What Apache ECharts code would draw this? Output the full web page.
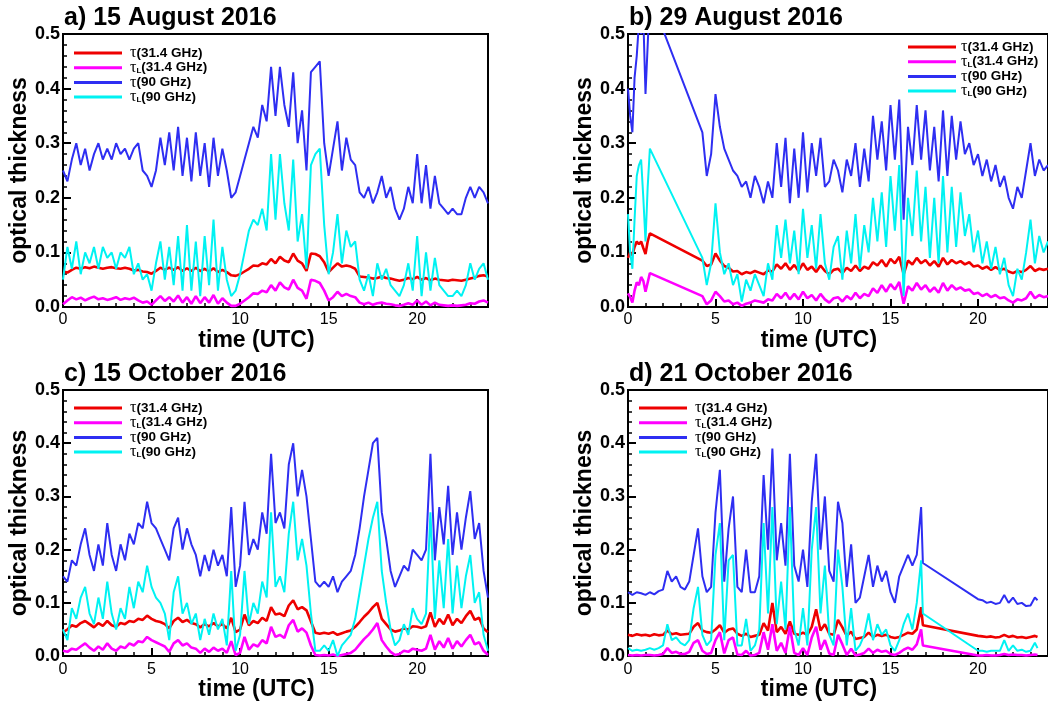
<!DOCTYPE html>
<html>
<head>
<meta charset="utf-8">
<script src="https://cdn.jsdelivr.net/npm/echarts@6/dist/echarts.min.js"></script>
<style>
  html, body { margin: 0; padding: 0; background: #fff; }
  #chart { width: 1048px; height: 702px; }
</style>
</head>
<body>
<div id="chart"></div>
<script>
// Uniformly spaced time stamps (hours UTC) for one contiguous stretch of measurements.
function steps(from, to, step) {
  const out = [];
  for (let t = from; t <= to + 1e-9; t += step) out.push(+t.toFixed(3));
  return out;
}

// ---------- time bases (UTC hours); gaps in the records are simply skipped ----------
const timeAug15 = steps(0, 24, 0.25);
const timeAug29 = steps(0, 1.25, 0.125).concat(steps(4.25, 24, 0.25));
const timeOct15 = steps(0, 24, 0.25);
const timeOct21 = steps(0, 16.75, 0.25).concat([16.85], steps(20, 23.25, 0.25), [23.4]);

// ---------- a) 15 August 2016 ----------
const aug15Tau31 = [
  0.065,0.063,0.068,0.072,0.070,0.073,0.071,0.074,
  0.072,0.070,0.072,0.073,0.071,0.070,0.072,0.070,
  0.067,0.068,0.065,0.064,0.061,0.066,0.072,0.068,
  0.072,0.068,0.073,0.066,0.071,0.066,0.072,0.066,
  0.070,0.065,0.071,0.064,0.068,0.064,0.058,0.057,
  0.060,0.065,0.070,0.076,0.075,0.080,0.078,0.088,
  0.080,0.092,0.085,0.082,0.098,0.085,0.080,0.066,
  0.098,0.097,0.093,0.082,0.064,0.072,0.080,0.074,
  0.076,0.074,0.070,0.056,0.055,0.054,0.052,0.053,
  0.056,0.053,0.052,0.050,0.048,0.050,0.053,0.051,
  0.055,0.050,0.053,0.049,0.052,0.050,0.049,0.048,
  0.050,0.049,0.048,0.050,0.052,0.054,0.057,0.058,
  0.056
];
const aug15TauL31 = [
  0.005,0.012,0.018,0.014,0.017,0.012,0.016,0.019,
  0.014,0.016,0.013,0.015,0.018,0.013,0.016,0.014,
  0.017,0.012,0.008,0.010,0.004,0.012,0.020,0.011,
  0.018,0.010,0.021,0.008,0.018,0.006,0.020,0.007,
  0.018,0.008,0.022,0.006,0.016,0.008,0.002,0.002,
  0.006,0.012,0.018,0.025,0.024,0.030,0.027,0.040,
  0.030,0.045,0.036,0.032,0.050,0.035,0.030,0.015,
  0.050,0.048,0.044,0.030,0.012,0.018,0.028,0.020,
  0.024,0.020,0.018,0.008,0.005,0.008,0.004,0.007,
  0.008,0.006,0.005,0.003,0.002,0.004,0.007,0.004,
  0.012,0.004,0.010,0.003,0.008,0.004,0.003,0.002,
  0.003,0.002,0.003,0.004,0.007,0.006,0.010,0.012,
  0.008
];
const aug15Tau90 = [
  0.25,0.23,0.27,0.30,0.26,0.29,0.25,0.28,
  0.30,0.27,0.29,0.27,0.30,0.28,0.29,0.27,
  0.29,0.30,0.25,0.24,0.22,0.25,0.31,0.26,
  0.32,0.25,0.33,0.24,0.31,0.23,0.32,0.24,
  0.30,0.22,0.31,0.24,0.29,0.25,0.20,0.21,
  0.24,0.27,0.30,0.33,0.31,0.37,0.34,0.44,
  0.35,0.44,0.37,0.33,0.43,0.30,0.36,0.25,
  0.43,0.44,0.45,0.30,0.24,0.29,0.34,0.25,
  0.31,0.27,0.26,0.21,0.20,0.22,0.19,0.21,
  0.24,0.20,0.22,0.18,0.16,0.18,0.22,0.19,
  0.28,0.19,0.26,0.18,0.24,0.19,0.18,0.17,
  0.18,0.17,0.17,0.20,0.22,0.20,0.22,0.21,
  0.19
];
const aug15TauL90 = [
  0.05,0.11,0.07,0.12,0.06,0.10,0.08,0.11,
  0.07,0.11,0.09,0.10,0.07,0.10,0.09,0.11,
  0.06,0.08,0.05,0.06,0.03,0.08,0.12,0.05,
  0.11,0.04,0.13,0.03,0.15,0.03,0.12,0.02,
  0.13,0.04,0.16,0.03,0.11,0.05,0.02,0.03,
  0.06,0.10,0.14,0.16,0.15,0.18,0.14,0.28,
  0.16,0.28,0.19,0.14,0.27,0.12,0.17,0.07,
  0.26,0.28,0.29,0.15,0.06,0.10,0.17,0.08,
  0.14,0.11,0.12,0.05,0.03,0.06,0.02,0.08,
  0.05,0.07,0.04,0.03,0.02,0.04,0.08,0.03,
  0.13,0.02,0.10,0.03,0.09,0.04,0.03,0.02,
  0.02,0.03,0.02,0.04,0.08,0.05,0.07,0.08,
  0.05
];

// ---------- b) 29 August 2016 ----------
const aug29Tau31 = [
  0.090,0.100,0.095,0.110,0.120,0.115,0.120,0.108,0.097,0.120,0.135,
  0.085,0.075,0.078,0.098,0.085,0.075,0.072,
  0.065,0.066,0.060,0.064,0.062,0.066,0.063,0.060,
  0.067,0.065,0.078,0.070,0.080,0.068,0.077,0.066,
  0.080,0.068,0.074,0.064,0.076,0.066,0.060,0.068,
  0.070,0.062,0.072,0.066,0.076,0.066,0.074,0.070,
  0.082,0.076,0.086,0.074,0.088,0.080,0.092,0.060,
  0.085,0.078,0.090,0.080,0.086,0.076,0.084,0.074,
  0.090,0.078,0.086,0.080,0.084,0.078,0.082,0.074,
  0.076,0.070,0.074,0.068,0.073,0.068,0.070,0.065,
  0.062,0.066,0.064,0.068,0.075,0.066,0.070,0.068,
  0.070
];
const aug29TauL31 = [
  0.025,0.018,0.008,0.030,0.045,0.040,0.055,0.048,0.028,0.045,0.062,
  0.020,0.005,0.012,0.028,0.020,0.010,0.012,
  0.005,0.008,0.002,0.006,0.008,0.012,0.010,0.008,
  0.014,0.012,0.024,0.016,0.026,0.014,0.024,0.014,
  0.028,0.016,0.022,0.012,0.024,0.014,0.008,0.016,
  0.018,0.010,0.020,0.014,0.026,0.016,0.024,0.020,
  0.034,0.026,0.040,0.028,0.042,0.032,0.046,0.006,
  0.038,0.030,0.044,0.032,0.040,0.028,0.036,0.026,
  0.044,0.030,0.040,0.032,0.036,0.030,0.032,0.024,
  0.026,0.020,0.024,0.018,0.022,0.016,0.018,0.012,
  0.008,0.014,0.012,0.016,0.028,0.016,0.022,0.018,
  0.020
];
const aug29Tau90 = [
  0.40,0.35,0.32,0.42,0.46,0.52,0.50,0.53,0.39,0.48,0.57,
  0.32,0.24,0.28,0.39,0.33,0.29,0.27,
  0.25,0.24,0.22,0.23,0.20,0.24,0.22,0.19,
  0.23,0.20,0.30,0.22,0.31,0.19,0.29,0.20,
  0.32,0.21,0.30,0.24,0.31,0.22,0.23,0.27,
  0.25,0.21,0.27,0.24,0.30,0.22,0.29,0.23,
  0.35,0.27,0.34,0.25,0.37,0.27,0.38,0.16,
  0.33,0.26,0.37,0.27,0.36,0.25,0.33,0.23,
  0.36,0.24,0.35,0.27,0.34,0.28,0.30,0.26,
  0.28,0.24,0.27,0.23,0.26,0.22,0.24,0.20,
  0.18,0.22,0.20,0.25,0.30,0.24,0.27,0.25,
  0.26
];
const aug29TauL90 = [
  0.17,0.10,0.07,0.16,0.24,0.26,0.27,0.20,0.12,0.22,0.29,
  0.09,0.04,0.08,0.19,0.10,0.06,0.08,
  0.04,0.06,0.01,0.05,0.03,0.06,0.04,0.02,
  0.08,0.05,0.15,0.09,0.16,0.08,0.14,0.06,
  0.18,0.09,0.15,0.07,0.17,0.08,0.05,0.11,
  0.13,0.05,0.14,0.08,0.17,0.07,0.15,0.10,
  0.20,0.12,0.21,0.11,0.24,0.14,0.26,0.02,
  0.20,0.13,0.25,0.12,0.22,0.09,0.20,0.08,
  0.24,0.10,0.22,0.11,0.21,0.13,0.17,0.10,
  0.14,0.08,0.12,0.07,0.11,0.06,0.09,0.04,
  0.02,0.07,0.05,0.10,0.16,0.08,0.13,0.10,
  0.12
];

// ---------- c) 15 October 2016 ----------
const oct15Tau31 = [
  0.045,0.050,0.058,0.055,0.062,0.066,0.060,0.054,
  0.062,0.057,0.066,0.058,0.055,0.062,0.060,0.066,
  0.064,0.070,0.068,0.076,0.070,0.066,0.064,0.060,
  0.052,0.066,0.072,0.064,0.068,0.062,0.060,0.054,
  0.060,0.056,0.062,0.056,0.060,0.052,0.072,0.045,
  0.050,0.078,0.058,0.066,0.062,0.072,0.066,0.092,
  0.078,0.080,0.075,0.095,0.105,0.088,0.092,0.086,
  0.065,0.044,0.042,0.044,0.042,0.045,0.040,0.043,
  0.046,0.048,0.055,0.064,0.074,0.082,0.092,0.100,
  0.070,0.060,0.050,0.046,0.048,0.052,0.050,0.056,
  0.055,0.053,0.056,0.082,0.055,0.070,0.060,0.078,
  0.058,0.070,0.062,0.075,0.085,0.068,0.072,0.052,
  0.045
];
const oct15TauL31 = [
  0.010,0.008,0.014,0.012,0.018,0.024,0.016,0.010,
  0.018,0.012,0.024,0.014,0.010,0.018,0.015,0.024,
  0.020,0.028,0.026,0.036,0.030,0.026,0.022,0.018,
  0.008,0.024,0.030,0.020,0.024,0.016,0.014,0.006,
  0.014,0.008,0.016,0.010,0.014,0.006,0.028,0.002,
  0.006,0.036,0.012,0.022,0.018,0.030,0.024,0.055,
  0.036,0.040,0.034,0.058,0.068,0.046,0.052,0.044,
  0.020,0.002,0.001,0.002,0.001,0.003,0.000,0.002,
  0.004,0.006,0.012,0.022,0.032,0.040,0.050,0.062,
  0.030,0.018,0.008,0.002,0.004,0.010,0.008,0.014,
  0.012,0.010,0.014,0.040,0.012,0.028,0.016,0.034,
  0.014,0.028,0.018,0.030,0.040,0.022,0.026,0.010,
  0.002
];
const oct15Tau90 = [
  0.15,0.14,0.18,0.17,0.21,0.24,0.19,0.16,
  0.21,0.17,0.25,0.19,0.16,0.21,0.18,0.23,
  0.21,0.25,0.24,0.29,0.25,0.24,0.22,0.20,
  0.18,0.24,0.26,0.20,0.24,0.21,0.19,0.15,
  0.19,0.16,0.20,0.17,0.19,0.15,0.28,0.13,
  0.17,0.29,0.19,0.22,0.20,0.27,0.23,0.38,
  0.25,0.27,0.24,0.36,0.40,0.30,0.35,0.30,
  0.22,0.14,0.13,0.14,0.13,0.15,0.12,0.14,
  0.15,0.16,0.19,0.24,0.30,0.35,0.40,0.41,
  0.27,0.22,0.16,0.13,0.15,0.17,0.16,0.20,
  0.19,0.18,0.20,0.38,0.18,0.28,0.21,0.32,
  0.19,0.27,0.20,0.26,0.31,0.22,0.25,0.16,
  0.11
];
const oct15TauL90 = [
  0.05,0.03,0.09,0.07,0.11,0.13,0.08,0.06,
  0.11,0.07,0.14,0.08,0.05,0.09,0.07,0.13,
  0.09,0.14,0.12,0.17,0.13,0.11,0.10,0.08,
  0.03,0.12,0.15,0.08,0.10,0.06,0.08,0.03,
  0.07,0.04,0.08,0.05,0.07,0.02,0.16,0.01,
  0.04,0.16,0.06,0.10,0.08,0.14,0.11,0.27,
  0.13,0.15,0.12,0.23,0.29,0.18,0.22,0.17,
  0.08,0.01,0.01,0.02,0.01,0.03,0.00,0.02,
  0.03,0.04,0.07,0.12,0.17,0.22,0.26,0.29,
  0.16,0.10,0.05,0.02,0.03,0.06,0.04,0.09,
  0.07,0.06,0.08,0.27,0.07,0.18,0.09,0.22,
  0.08,0.17,0.09,0.15,0.19,0.10,0.12,0.04,
  0.01
];

// ---------- d) 21 October 2016 ----------
const oct21Tau31 = [
  0.040,0.038,0.041,0.039,0.040,0.038,0.041,0.039,
  0.040,0.048,0.041,0.043,0.040,0.041,0.042,0.055,
  0.062,0.048,0.045,0.044,0.050,0.058,0.044,0.050,
  0.052,0.042,0.038,0.042,0.036,0.038,0.040,0.062,
  0.048,0.100,0.045,0.055,0.042,0.065,0.042,0.040,
  0.044,0.040,0.055,0.088,0.048,0.060,0.042,0.040,
  0.068,0.054,0.038,0.046,0.032,0.034,0.036,0.044,
  0.036,0.040,0.038,0.040,0.036,0.034,0.036,0.040,
  0.044,0.042,0.050,0.092,
  0.058,
  0.038,0.037,0.036,0.037,0.035,0.036,0.040,0.036,
  0.038,0.035,0.036,0.034,0.036,0.038,
  0.036
];
const oct21TauL31 = [
  0.002,0.001,0.002,0.001,0.002,0.002,0.001,0.002,
  0.004,0.015,0.006,0.008,0.004,0.004,0.008,0.025,
  0.030,0.010,0.004,0.006,0.030,0.045,0.005,0.030,
  0.035,0.003,0.002,0.010,0.001,0.002,0.006,0.045,
  0.012,0.060,0.010,0.025,0.006,0.055,0.006,0.002,
  0.015,0.002,0.035,0.055,0.012,0.030,0.005,0.002,
  0.040,0.022,0.002,0.014,0.001,0.003,0.006,0.014,
  0.006,0.012,0.008,0.010,0.004,0.002,0.006,0.012,
  0.016,0.012,0.022,0.050,
  0.020,
  0.001,0.001,0.002,0.001,0.001,0.002,0.004,0.002,
  0.003,0.002,0.002,0.001,0.002,0.003,
  0.002
];
const oct21Tau90 = [
  0.120,0.115,0.120,0.118,0.115,0.120,0.116,0.122,
  0.125,0.160,0.140,0.150,0.130,0.125,0.140,0.190,
  0.240,0.150,0.120,0.130,0.270,0.350,0.140,0.240,
  0.300,0.130,0.120,0.200,0.120,0.120,0.150,0.340,
  0.200,0.390,0.180,0.250,0.170,0.380,0.170,0.140,
  0.200,0.130,0.290,0.380,0.200,0.300,0.160,0.140,
  0.290,0.250,0.130,0.210,0.100,0.110,0.150,0.190,
  0.130,0.170,0.140,0.160,0.120,0.100,0.150,0.170,
  0.190,0.170,0.190,0.280,
  0.175,
  0.107,0.105,0.100,0.102,0.098,0.100,0.115,0.100,
  0.110,0.098,0.100,0.094,0.095,0.110,
  0.105
];
const oct21TauL90 = [
  0.015,0.010,0.012,0.010,0.012,0.015,0.012,0.015,
  0.020,0.060,0.030,0.035,0.025,0.020,0.030,0.090,
  0.130,0.040,0.020,0.030,0.190,0.250,0.030,0.180,
  0.190,0.020,0.020,0.070,0.010,0.020,0.050,0.250,
  0.080,0.280,0.060,0.140,0.050,0.280,0.050,0.020,
  0.090,0.020,0.200,0.280,0.080,0.170,0.040,0.020,
  0.200,0.130,0.020,0.090,0.010,0.020,0.040,0.080,
  0.030,0.060,0.040,0.050,0.020,0.010,0.030,0.060,
  0.080,0.050,0.100,0.180,
  0.080,
  0.010,0.010,0.008,0.010,0.010,0.010,0.030,0.010,
  0.020,0.010,0.012,0.008,0.010,0.025,
  0.015
];

// ---------- labels ----------
const seriesNames = ['τ(31.4 GHz)', 'τL(31.4 GHz)', 'τ(90 GHz)', 'τL(90 GHz)'];
const seriesColors = ['#ee0000', '#ff00ff', '#2e2ef2', '#00f2f2'];
const yTicks = [0, 0.1, 0.2, 0.3, 0.4, 0.5];
const panelTitles = ['a) 15 August 2016', 'b) 29 August 2016', 'c) 15 October 2016', 'd) 21 October 2016'];
const xName = 'time (UTC)';
const yName = 'optical thickness';

const panelData = [
  { time: timeAug15, values: [aug15Tau31, aug15TauL31, aug15Tau90, aug15TauL90] },
  { time: timeAug29, values: [aug29Tau31, aug29TauL31, aug29Tau90, aug29TauL90] },
  { time: timeOct15, values: [oct15Tau31, oct15TauL31, oct15Tau90, oct15TauL90] },
  { time: timeOct21, values: [oct21Tau31, oct21TauL31, oct21Tau90, oct21TauL90] }
];

// ---------- layout of the four panels ----------
const layout = [
  { left: 63,  top: 34,  legendLeft: 74,  legendTop: 45,  textPad: 3 },
  { left: 628, top: 34,  legendLeft: 908, legendTop: 39,  textPad: 0 },
  { left: 63,  top: 390, legendLeft: 74,  legendTop: 400, textPad: 3 },
  { left: 628, top: 390, legendLeft: 639, legendTop: 400, textPad: 3 }
];

const SANS = 'Liberation Sans, Arial, sans-serif';
const SERIF = 'Liberation Serif, Times New Roman, serif';
const BLACK = '#000';

const grids = [], xAxes = [], yAxes = [], series = [], legends = [], titles = [];

layout.forEach((p, i) => {
  grids.push({
    left: p.left, top: p.top, width: 425, height: 273,
    show: true, borderColor: BLACK, borderWidth: 2, backgroundColor: 'transparent'
  });
  // main time axis: long ticks and labels every 5 h
  xAxes.push({
    gridIndex: i, type: 'value', position: 'bottom', min: 0, max: 24, interval: 5,
    axisLine: { show: true, onZero: false, lineStyle: { color: BLACK, width: 2 } },
    axisTick: { show: true, inside: true, length: 8, lineStyle: { color: BLACK, width: 2 } },
    axisLabel: { show: true, showMaxLabel: false, color: BLACK, fontFamily: SANS, fontSize: 16, margin: 5 },
    splitLine: { show: false },
    name: xName, nameLocation: 'middle', nameGap: 8,
    nameTextStyle: { color: BLACK, fontFamily: SANS, fontSize: 23, fontWeight: 'bold', padding: [0, 38, 0, 0] }
  });
  // hourly short ticks
  xAxes.push({
    gridIndex: i, type: 'value', position: 'bottom', min: 0, max: 24, interval: 1,
    axisLine: { show: false },
    axisTick: { show: true, inside: true, length: 4, lineStyle: { color: BLACK, width: 1.5 } },
    axisLabel: { show: false },
    splitLine: { show: false }
  });
  yAxes.push({
    gridIndex: i, type: 'value', min: yTicks[0], max: yTicks[yTicks.length - 1], interval: 0.1,
    axisLine: { show: true, onZero: false, lineStyle: { color: BLACK, width: 2 } },
    axisTick: { show: true, inside: true, length: 8, lineStyle: { color: BLACK, width: 2 } },
    minorTick: { show: true, splitNumber: 5, length: 4, lineStyle: { color: BLACK, width: 1.5 } },
    axisLabel: {
      color: BLACK, fontFamily: SANS, fontSize: 18, fontWeight: 'bold', margin: 3,
      padding: [4, 0, 0, 0],
      formatter: v => v.toFixed(1)
    },
    splitLine: { show: false },
    name: yName, nameLocation: 'middle', nameGap: 21,
    nameTextStyle: { color: BLACK, fontFamily: SANS, fontSize: 23, fontWeight: 'bold' }
  });

  const d = panelData[i];
  d.values.forEach((vals, k) => {
    series.push({
      type: 'line',
      name: seriesNames[k],
      xAxisIndex: i * 2,
      yAxisIndex: i,
      data: d.time.map((t, j) => [t, vals[j]]),
      showSymbol: false,
      symbol: 'none',
      color: seriesColors[k],
      itemStyle: { color: seriesColors[k] },
      lineStyle: { color: seriesColors[k], width: k < 2 ? 2.6 : 2 },
      clip: true,
      silent: true,
      animation: false
    });
  });

  legends.push({
    orient: 'vertical', left: p.legendLeft, top: p.legendTop, padding: 0,
    itemWidth: 48, itemHeight: 3, itemGap: -1.3, icon: 'rect', selectedMode: false,
    data: seriesNames,
    formatter: name => name.charAt(1) === 'L'
      ? '{g|τ}{s|L}{t|' + name.slice(2) + '}'
      : '{g|τ}{t|' + name.slice(1) + '}',
    textStyle: {
      rich: {
        g: { fontFamily: SERIF, fontSize: 16, color: BLACK, lineHeight: 13.7, padding: [0, 0, 0, p.textPad] },
        s: { fontFamily: SANS, fontSize: 8, fontWeight: 'bold', color: BLACK, verticalAlign: 'bottom' },
        t: { fontFamily: SANS, fontSize: 13.5, fontWeight: 'bold', color: BLACK, lineHeight: 13.7 }
      }
    }
  });

  titles.push({
    text: panelTitles[i], left: p.left + 1, top: p.top - 28, padding: 0,
    textStyle: { color: BLACK, fontFamily: SANS, fontSize: 25, fontWeight: 'bold' }
  });
});

const chart = echarts.init(document.getElementById('chart'), null, { renderer: 'canvas' });
chart.setOption({
  animation: false,
  backgroundColor: '#fff',
  title: titles,
  legend: legends,
  grid: grids,
  xAxis: xAxes,
  yAxis: yAxes,
  series: series
});
</script>
</body>
</html>
